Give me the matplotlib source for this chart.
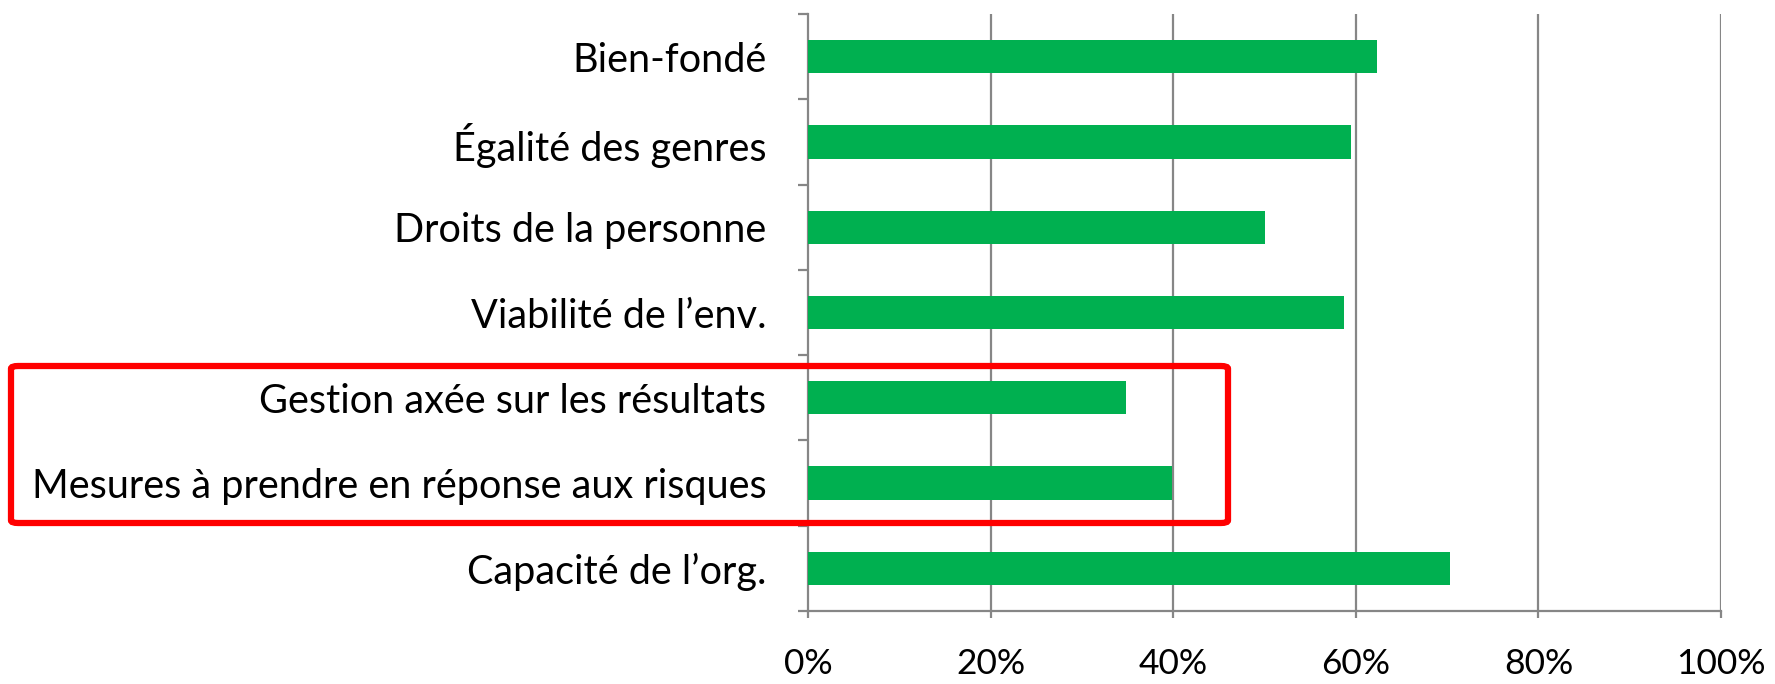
import numpy as np
import matplotlib
matplotlib.use("Agg")
import matplotlib.pyplot as plt
from matplotlib.patches import FancyBboxPatch

# Data (top to bottom as in the chart)
categories = ["Bien-fondé", "Égalité des genres", "Droits de la personne",
              "Viabilité de l’env.", "Gestion axée sur les résultats",
              "Mesures à prendre en réponse aux risques", "Capacité de l’org."]
values = [0.623, 0.595, 0.500, 0.587, 0.348, 0.399, 0.703]
xticks = [0, 0.2, 0.4, 0.6, 0.8, 1.0]
xticklabels = ["0%", "20%", "40%", "60%", "80%", "100%"]

plt.rcParams['font.family'] = ['Lato', 'DejaVu Sans']

W, H = 1775, 684
fig = plt.figure(figsize=(W / 100, H / 100), dpi=100)
ax = fig.add_axes([808 / W, 1 - 611 / H, (1721 - 808) / W, (611 - 14) / H])

grid_col = '#868686'
y = np.arange(len(categories))
ax.barh(y, values, height=0.39, color='#00B050', zorder=3)

ax.set_xlim(0, 1.0)
ax.set_ylim(len(categories) - 0.5, -0.5)
ax.set_xticks(xticks)
ax.set_xticklabels(xticklabels, fontsize=25.5)
ax.set_yticks(y)
ax.set_yticklabels(categories, fontsize=28.5)
ax.set_yticks(np.arange(-0.5, len(categories)), minor=True)

# gridlines at each x tick (except 0)
for xt in xticks[1:]:
    ax.axvline(xt, color=grid_col, lw=1.6, zorder=1)

for s in ['top', 'right']:
    ax.spines[s].set_visible(False)
for s in ['left', 'bottom']:
    ax.spines[s].set_color(grid_col)
    ax.spines[s].set_linewidth(1.6)

ax.tick_params(axis='y', which='major', length=0, pad=30)
ax.tick_params(axis='y', which='minor', length=7, width=1.6, color=grid_col)
ax.tick_params(axis='x', which='major', length=5, width=1.6, color=grid_col, pad=22)

# red highlight box
box = FancyBboxPatch((11 / W, 1 - 523 / H), (1228 - 11) / W, (523 - 366) / H,
                     boxstyle="round,pad=0,rounding_size=0.004",
                     transform=fig.transFigure, fill=False,
                     edgecolor='#FF0000', linewidth=4.5, zorder=10)
fig.patches.append(box)

fig.savefig("out.png", dpi=100)
